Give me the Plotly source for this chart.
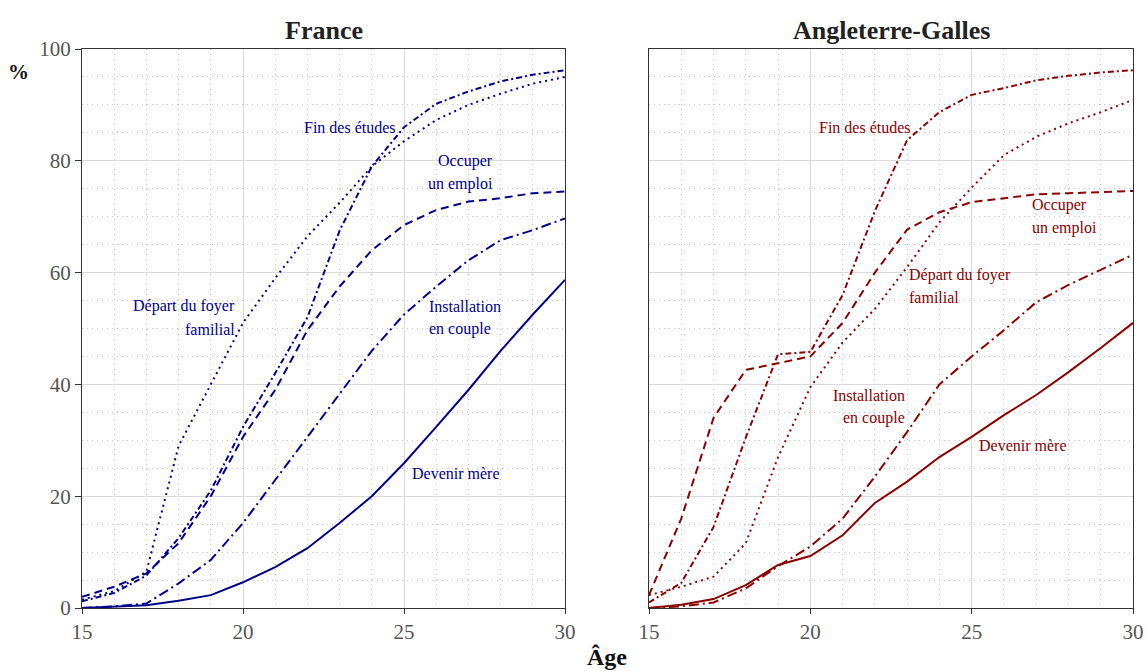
import plotly.graph_objects as go

ages = list(range(15, 31))

# France
fr_depart = [1.5, 3.0, 6.5, 29.0, 40.0, 51.0, 59.0, 66.5, 72.5, 79.0, 83.5, 87.3, 90.0, 92.0, 93.8, 95.0]
fr_etudes = [1.2, 2.7, 5.8, 12.5, 21.0, 32.4, 42.0, 52.0, 67.5, 79.0, 86.0, 90.2, 92.4, 94.2, 95.4, 96.2]
fr_emploi = [2.0, 3.8, 6.2, 11.6, 20.0, 30.6, 39.0, 49.7, 57.5, 64.0, 68.5, 71.2, 72.7, 73.3, 74.2, 74.5]
fr_couple = [0.0, 0.3, 0.8, 4.4, 8.6, 15.2, 22.9, 30.6, 38.4, 46.0, 52.5, 57.5, 62.2, 65.8, 67.6, 69.7]
fr_mere = [0.0, 0.2, 0.5, 1.3, 2.3, 4.6, 7.3, 10.7, 15.2, 20.0, 25.9, 32.4, 39.0, 46.0, 52.5, 58.7]

# Angleterre-Galles
en_depart = [2.3, 3.8, 5.6, 11.6, 27.0, 39.5, 47.5, 53.5, 61.0, 69.0, 75.2, 81.0, 84.3, 86.7, 88.7, 90.9]
en_etudes = [1.0, 4.5, 14.5, 30.5, 45.4, 45.8, 56.0, 71.0, 83.7, 88.7, 91.8, 93.0, 94.4, 95.2, 95.8, 96.2]
en_emploi = [2.3, 16.0, 34.0, 42.6, 43.8, 45.0, 51.0, 60.0, 67.7, 70.8, 72.6, 73.3, 74.0, 74.2, 74.4, 74.6]
en_couple = [0.0, 0.3, 1.0, 3.5, 7.5, 11.0, 16.0, 23.5, 31.5, 40.0, 45.0, 49.7, 54.7, 57.8, 60.5, 63.2]
en_mere = [0.0, 0.6, 1.6, 4.1, 7.7, 9.3, 13.0, 18.8, 22.6, 27.0, 30.6, 34.5, 38.1, 42.2, 46.5, 51.0]

x_ticks = [15, 20, 25, 30]
y_ticks = [0, 20, 40, 60, 80, 100]
panel_titles = ["France", "Angleterre-Galles"]

FR_COLOR = "#00008B"
EN_COLOR = "#8B0000"
FONT = "Liberation Serif"

styles = {
    "depart": "2px,4px",
    "etudes": "6px,3px,2px,3px",
    "emploi": "8px,5px",
    "couple": "10px,4px,2px,4px",
    "mere": "solid",
}

fig = go.Figure()

series = [
    ("x", "y", FR_COLOR, [("depart", fr_depart), ("etudes", fr_etudes), ("emploi", fr_emploi),
                          ("couple", fr_couple), ("mere", fr_mere)]),
    ("x2", "y2", EN_COLOR, [("depart", en_depart), ("etudes", en_etudes), ("emploi", en_emploi),
                            ("couple", en_couple), ("mere", en_mere)]),
]
for xa, ya, col, lst in series:
    for key, vals in lst:
        fig.add_trace(go.Scatter(x=ages, y=vals, mode="lines", xaxis=xa, yaxis=ya,
                                 line=dict(color=col, width=2, dash=styles[key]),
                                 showlegend=False, hoverinfo="skip"))

# labels: (axis, lines, x, y, anchor)
labels = [
    ("x", "y", FR_COLOR, ["Fin des études"], 24.82, 85.9, "right"),
    ("x", "y", FR_COLOR, ["Occuper", "un emploi"], 27.83, 79.9, "right"),
    ("x", "y", FR_COLOR, ["Départ du foyer", "familial"], 19.8, 54.0, "right"),
    ("x", "y", FR_COLOR, ["Installation", "en couple"], 25.7, 54.0, "left"),
    ("x", "y", FR_COLOR, ["Devenir mère"], 25.2, 24.0, "left"),
    ("x2", "y2", EN_COLOR, ["Fin des études"], 23.18, 86.0, "right"),
    ("x2", "y2", EN_COLOR, ["Occuper", "un emploi"], 26.8, 72.1, "left"),
    ("x2", "y2", EN_COLOR, ["Départ du foyer", "familial"], 22.99, 59.6, "left"),
    ("x2", "y2", EN_COLOR, ["Installation", "en couple"], 23.0, 38.1, "right"),
    ("x2", "y2", EN_COLOR, ["Devenir mère"], 25.18, 29.0, "left"),
]
for xa, ya, col, lines, lx, ly, anc in labels:
    for i, t in enumerate(lines):
        fig.add_annotation(x=lx, y=ly, xref=xa, yref=ya, text=t, showarrow=False,
                           xanchor=anc, yanchor="middle", yshift=-23 * i,
                           font=dict(family=FONT, size=16, color=col))

# the page body margin is removed below, so figure pixels == page pixels
W, H = 1147, 671
plot_left, plot_right, plot_top, plot_bottom = 82, 1133, 49, 608
ml, mt = plot_left, plot_top
mr, mb = W - plot_right, H - plot_bottom
pw = W - ml - mr
ph = H - mt - mb

def px_x(px):
    return (px - plot_left) / pw

def px_y(py):
    return (plot_bottom - py) / ph

# panel titles
for title, cx in zip(panel_titles, [323.5, 891]):
    fig.add_annotation(x=px_x(cx), y=px_y(30), xref="paper", yref="paper", text="<b>" + title + "</b>",
                       showarrow=False, xanchor="center", yanchor="middle",
                       font=dict(family=FONT, size=26, color="#222222"))

fig.add_annotation(x=px_x(18), y=px_y(72), xref="paper", yref="paper", text="<b>%</b>",
                   showarrow=False, xanchor="center", yanchor="middle",
                   font=dict(family=FONT, size=21, color="#111111"))
fig.add_annotation(x=px_x(607), y=px_y(657), xref="paper", yref="paper", text="<b>Âge</b>",
                   showarrow=False, xanchor="center", yanchor="middle",
                   font=dict(family=FONT, size=24, color="#111111"))

axis_common = dict(
    showline=True, linecolor="#333333", linewidth=1.2, mirror=True,
    showgrid=True, gridcolor="#d9d9d9", gridwidth=1,
    zeroline=False, automargin=False, ticklabeloverflow="allow",
    tickfont=dict(family=FONT, size=21, color="#555555"),
)

minor_grid = dict(showgrid=True, gridcolor="#c4c4c4", griddash="1px,4px", gridwidth=1)
xcommon = dict(axis_common, range=[15, 30], tickvals=x_ticks, ticks="outside", ticklen=5,
               tickcolor="#333333", minor=dict(minor_grid, dtick=1))
ycommon = dict(axis_common, range=[0, 100], tickvals=y_ticks, minor=dict(minor_grid, dtick=5))

left_dom = [0, (565 - plot_left) / pw]
right_dom = [(649 - plot_left) / pw, 1.0]

fig.update_layout(
    width=W, height=H,
    margin=dict(l=ml, r=mr, t=mt, b=mb, autoexpand=False),
    paper_bgcolor="white", plot_bgcolor="white",
    showlegend=False,
    xaxis=dict(xcommon, domain=left_dom, anchor="y"),
    yaxis=dict(ycommon, domain=[0, 1], anchor="x", ticks="outside", ticklen=6, tickcolor="#333333"),
    xaxis2=dict(xcommon, domain=right_dom, anchor="y2"),
    yaxis2=dict(ycommon, domain=[0, 1], anchor="x2", showticklabels=False, ticks=""),
)

fig.write_html("out.html", config={"displayModeBar": False},
               post_script="document.body.style.margin='0';document.body.style.overflow='hidden';")
